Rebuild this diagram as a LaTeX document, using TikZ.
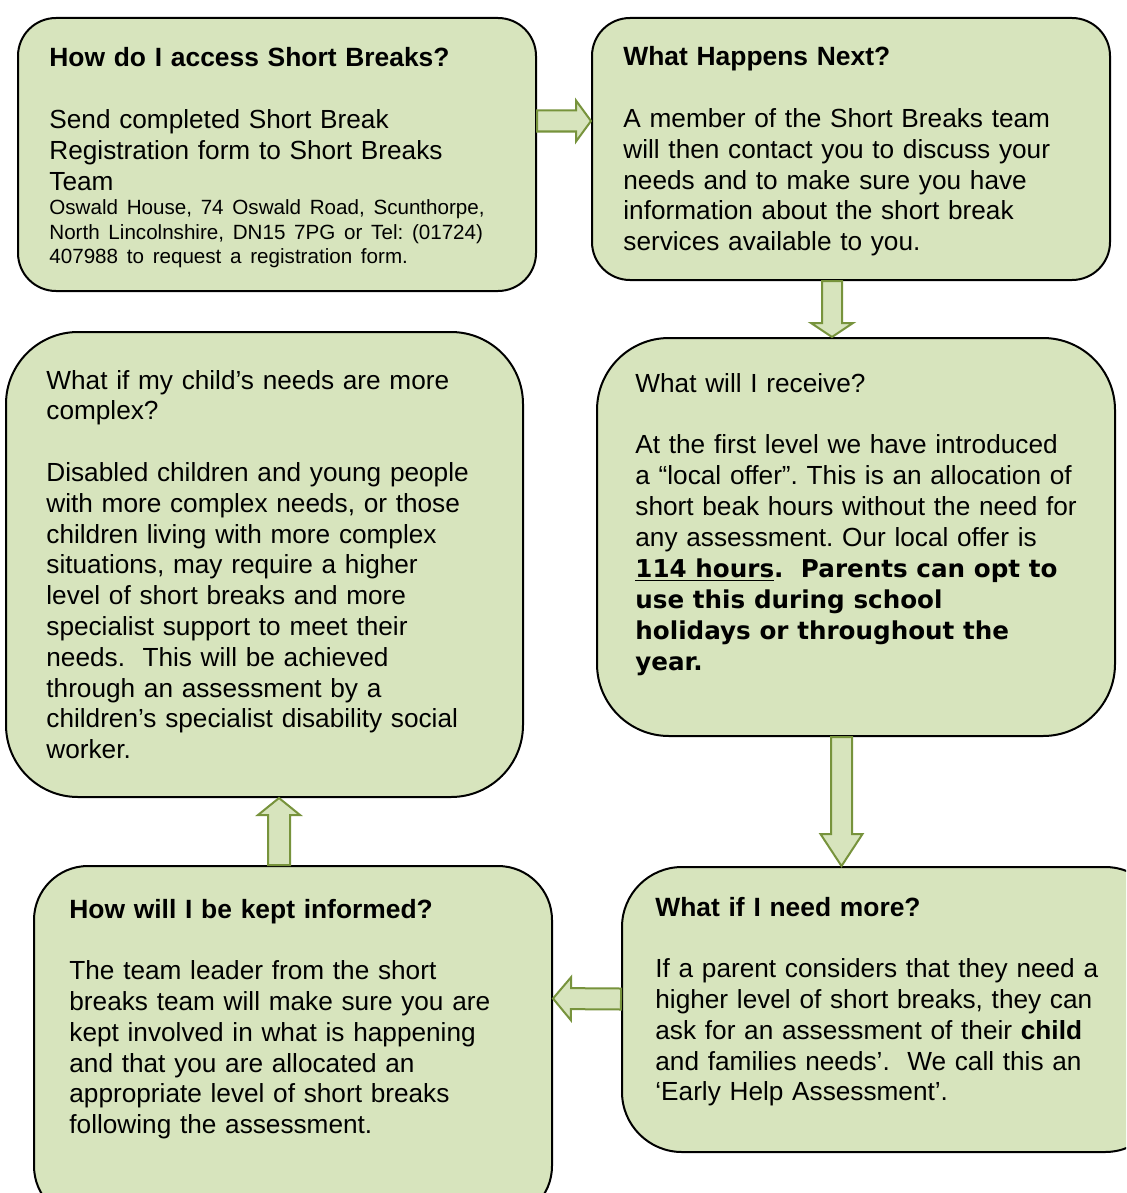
\documentclass[tikz,border=0pt]{standalone}
\usepackage{fontspec}
\setmainfont{Liberation Sans}
\newfontfamily\verdanafont{DejaVu Sans}
\usetikzlibrary{calc}
\frenchspacing

\definecolor{boxfill}{HTML}{D7E4BD}
\definecolor{arrowline}{HTML}{77933C}

% block arrow: from, to, shaft half width, head half width, head length
\newcommand{\blockarrow}[5]{%
  \coordinate (hb) at ($(#2)!#5!(#1)$);
  \draw[blockarrow] ($(#1)!#3!90:(#2)$) -- ($(hb)!#3!90:(#2)$) -- ($(hb)!#4!90:(#2)$)
    -- (#2) -- ($(hb)!#4!-90:(#2)$) -- ($(hb)!#3!-90:(#2)$) -- ($(#1)!#3!-90:(#2)$) -- cycle;}

\tikzset{
  qbox/.style={draw=black, line width=1pt, fill=boxfill, rounded corners=#1, inner sep=0pt},
  qtext/.style={anchor=base west, inner sep=0pt, align=left, text width=262pt,
    font=\fontsize{13.1}{15.4}\selectfont},
  qhead/.style={font=\bfseries\fontsize{13.2}{15.4}\selectfont}
}
\tikzset{blockarrow/.style={draw=arrowline, line width=1pt, fill=boxfill, line join=miter}}
\newcommand{\headtext}[1]{{\bfseries\fontsize{13.2}{15.4}\selectfont #1}}

\begin{document}
\begin{tikzpicture}[x=0.5pt,y=-0.5pt]
\clip (0,0) rectangle (1126,1193);
\fill[white] (0,0) rectangle (1126,1193);
% Boxes
\node[qbox=19pt, minimum width=259pt, minimum height=136.5pt] (access) at (277,154.5) {};
\node[qbox=19pt, minimum width=259pt, minimum height=131pt] (next) at (851,149) {};
\node[qbox=36pt, minimum width=258.5pt, minimum height=232.5pt] (complex) at (264.5,564.5) {};
\node[qbox=36pt, minimum width=259pt, minimum height=199pt] (receive) at (856,537) {};
\node[qbox=27pt, minimum width=259pt, minimum height=177pt] (informed) at (293,1043) {};
\node[qbox=30pt, minimum width=271.5pt, minimum height=142.5pt] (more) at (893.5,1009.5) {};
% Texts
\node[qtext] (accesstext) at ($(access.north west)+(32,50)$) {%
  \headtext{How do I access Short Breaks?}\\[15.4pt]
  Send completed Short Break\\
  Registration form to Short Breaks\\
  Team\par
  {\fontsize{10.3}{12.25}\selectfont Oswald House, 74 Oswald Road, Scunthorpe,\\
  North Lincolnshire, DN15 7PG or Tel: (01724)\\
  407988 to request a registration form.\par}};
\node[qtext] (nexttext) at ($(next.north west)+(32,49)$) {%
  \headtext{What Happens Next?}\\[15.4pt]
  A member of the Short Breaks team\\
  will then contact you to discuss your\\
  needs and to make sure you have\\
  information about the short break\\
  services available to you.};
\node[qtext] (complextext) at ($(complex.north west)+(41,58)$) {%
  What if my child’s needs are more\\
  complex?\\[15.4pt]
  Disabled children and young people\\
  with more complex needs, or those\\
  children living with more complex\\
  situations, may require a higher\\
  level of short breaks and more\\
  specialist support to meet their\\
  needs.\ \ This will be achieved\\
  through an assessment by a\\
  children’s specialist disability social\\
  worker.};
\node[qtext] (receivetext) at ($(receive.north west)+(39,55)$) {%
  What will I receive?\\[15.4pt]
  At the first level we have introduced\\
  a “local offer”. This is an allocation of\\
  short beak hours without the need for\\
  any assessment. Our local offer is\par
  {\verdanafont\bfseries\fontsize{12.3}{15.5}\selectfont \underline{114 hours}.\ \ Parents can opt to\\
  use this during school\\
  holidays or throughout the\\
  year.\par}};
\node[qtext] (informedtext) at ($(informed.north west)+(36,53)$) {%
  \headtext{How will I be kept informed?}\\[15.4pt]
  The team leader from the short\\
  breaks team will make sure you are\\
  kept involved in what is happening\\
  and that you are allocated an\\
  appropriate level of short breaks\\
  following the assessment.};
\node[qtext] (moretext) at ($(more.north west)+(34,50)$) {%
  \headtext{What if I need more?}\\[15.4pt]
  If a parent considers that they need a\\
  higher level of short breaks, they can\\
  ask for an assessment of their \textbf{child}\\
  and families needs’.\ \ We call this an\\
  ‘Early Help Assessment’.};
% Arrow ends
\coordinate (a1s) at ($(access.north east)+(0,104)$);
\coordinate (a1e) at ($(next.north west)+(0,104)$);
\coordinate (a2s) at ($(next.south west)+(241,0)$);
\coordinate (a2e) at ($(receive.north west)+(236,0)$);
\coordinate (a3s) at ($(receive.south west)+(245.5,0)$);
\coordinate (a3e) at ($(more.north west)+(220.5,0)$);
\coordinate (a4s) at ($(more.north west)+(0,133)$);
\coordinate (a4e) at ($(informed.north east)+(0,133.5)$);
\coordinate (a5s) at ($(informed.north west)+(246,0)$);
\coordinate (a5e) at ($(complex.south west)+(274,0)$);
% Arrows
\blockarrow{a1s}{a1e}{5.25pt}{10.25pt}{7.5pt}
\blockarrow{a2s}{a2e}{5pt}{10.5pt}{7pt}
\blockarrow{a3s}{a3e}{5.25pt}{10.5pt}{16pt}
\blockarrow{a4s}{a4e}{5.25pt}{10.75pt}{9pt}
\blockarrow{a5s}{a5e}{5.5pt}{10.5pt}{8.5pt}
\end{tikzpicture}
\end{document}
